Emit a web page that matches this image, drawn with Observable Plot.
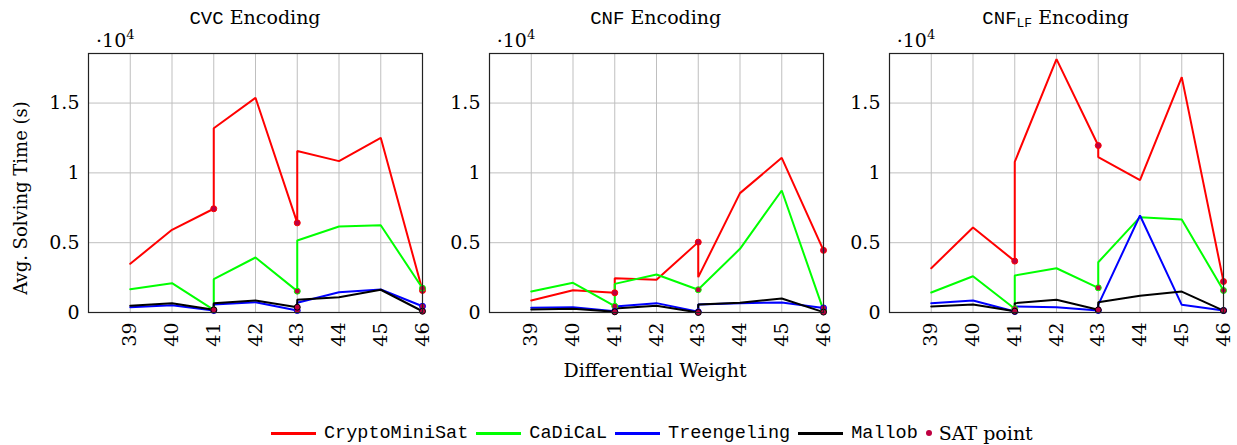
<!DOCTYPE html>
<html>
<head>
<meta charset="utf-8">
<script src="https://cdn.jsdelivr.net/npm/d3@7"></script>
<script src="https://cdn.jsdelivr.net/npm/@observablehq/plot@0.6"></script>
<style>
  body { margin: 0; background: #fff; }
  #root { position: relative; width: 1237px; height: 445px; font-family: "DejaVu Serif", serif; color: #000; overflow: hidden; }
  .abs { position: absolute; white-space: nowrap; }
  .tt { font-family: "Liberation Mono", monospace; }
  .title { font-size: 19px; transform: translateX(-50%); top: 4px; line-height: 26px; }
  .mult { font-size: 19px; top: 28px; line-height: 24px; }
  .mult sup { font-size: 13px; vertical-align: 8px; line-height: 0; }
  .title sub { font-size: 13px; vertical-align: -3px; line-height: 0; }
  .ylab { font-size: 18px; left: 20px; top: 198px; transform: translate(-50%, -50%) rotate(-90deg); }
  .xlab { font-size: 19px; left: 655px; top: 370px; transform: translate(-50%, -50%); }
  #legend { position: absolute; left: 271px; top: 433px; transform: translateY(-50%); display: flex; align-items: center; white-space: nowrap; }
  .sw { width: 45px; height: 3px; margin-right: 8px; }
  .lt { font-family: "Liberation Mono", monospace; font-size: 18.5px; margin-right: 8px; }
  .ld { width: 6px; height: 6px; border-radius: 50%; background: #bf0040; margin-right: 7px; }
  .ls { font-size: 19px; }
  svg { position: absolute; overflow: visible; }
</style>
</head>
<body>
<div id="root"></div>
<script>
// ---- data ----
const xPositions = [39, 40, 41, 41, 42, 43, 43, 44, 45, 46];
const satIndex = [2, 5, 9];
const solvers = ["CryptoMiniSat", "CaDiCaL", "Treengeling", "Mallob"];
const solverColors = ["#ff0000", "#00ff00", "#0000ff", "#000000"];
const xTicks = [39, 40, 41, 42, 43, 44, 45, 46];
const yTicks = [0, 5000, 10000, 15000];

// CVC encoding
const cvcCryptoMiniSat = [3490, 5920, 7430, 13200, 15380, 6420, 11560, 10840, 12510, 1580];
const cvcCaDiCaL       = [1670, 2100, 190, 2390, 3940, 1530, 5160, 6160, 6250, 1740];
const cvcTreengeling   = [380, 520, 140, 570, 740, 140, 700, 1450, 1650, 450];
const cvcMallob        = [480, 670, 190, 670, 860, 380, 910, 1100, 1630, 90];

// CNF encoding
const cnfCryptoMiniSat = [860, 1600, 1410, 2460, 2340, 5040, 2530, 8550, 11080, 4450];
const cnfCaDiCaL       = [1500, 2130, 450, 2050, 2720, 1630, 1650, 4560, 8740, 150];
const cnfTreengeling   = [340, 380, 90, 430, 670, 50, 570, 670, 720, 330];
const cnfMallob        = [210, 260, 50, 290, 480, 0, 570, 700, 1000, 30];

// CNF_LF encoding
const lfCryptoMiniSat = [3170, 6090, 3680, 10790, 18150, 11960, 11130, 9480, 16860, 2220];
const lfCaDiCaL       = [1430, 2600, 270, 2650, 3170, 1770, 3600, 6830, 6660, 1580];
const lfTreengeling   = [670, 860, 70, 430, 380, 140, 550, 6950, 550, 140];
const lfMallob        = [430, 570, 90, 670, 910, 190, 740, 1200, 1500, 140];

const panelSeries = [
  [cvcCryptoMiniSat, cvcCaDiCaL, cvcTreengeling, cvcMallob],
  [cnfCryptoMiniSat, cnfCaDiCaL, cnfTreengeling, cnfMallob],
  [lfCryptoMiniSat, lfCaDiCaL, lfTreengeling, lfMallob]
];
const panelTitles = [
  '<span class="tt">CVC</span> Encoding',
  '<span class="tt">CNF</span> Encoding',
  '<span class="tt">CNF<sub>LF</sub></span> Encoding'
];

// ---- layout ----
const root = document.getElementById("root");
const frameLefts = [88, 488.7, 888.7];
const frameW = 334, frameTop = 53, frameH = 259;
const mTop = 8, mBottom = 55, mRight = 8, mLeft = 50;

panelSeries.forEach((series, p) => {
  const rows = [];
  series.forEach((vals, s) => {
    vals.forEach((v, i) => rows.push({solver: solvers[s], x: xPositions[i], y: v, sat: satIndex.includes(i)}));
  });
  const satRows = rows.filter(d => d.sat);
  const chart = Plot.plot({
    width: mLeft + frameW + mRight,
    height: mTop + frameH + mBottom,
    marginLeft: mLeft, marginRight: mRight, marginTop: mTop, marginBottom: mBottom,
    style: {fontFamily: '"DejaVu Serif", serif', fontSize: "19px", background: "transparent", color: "#000"},
    x: {type: "linear", domain: [38, 46]},
    y: {domain: [0, 18550]},
    color: {domain: solvers, range: solverColors},
    marks: [
      Plot.gridX(xTicks, {stroke: "#bfbfbf", strokeOpacity: 1, strokeWidth: 1}),
      Plot.gridY(yTicks.slice(1), {stroke: "#bfbfbf", strokeOpacity: 1, strokeWidth: 1}),
      Plot.axisX({ticks: xTicks, tickRotate: -90, tickSize: 0, tickPadding: 10, label: null, tickFormat: d => String(d)}),
      Plot.axisY({ticks: yTicks, tickSize: 0, tickPadding: 9, label: null, tickFormat: d => d === 0 ? "0" : String(d / 10000)}),
      Plot.line(rows, {x: "x", y: "y", z: "solver", stroke: "solver", strokeWidth: 2, strokeLinejoin: "miter"}),
      Plot.dot(satRows, {x: "x", y: "y", r: 3, fill: "#bf0040", stroke: "solver", strokeWidth: 1}),
      Plot.frame({stroke: "#222", strokeWidth: 1.2})
    ]
  });
  chart.style.left = (frameLefts[p] - mLeft) + "px";
  chart.style.top = (frameTop - mTop) + "px";
  root.appendChild(chart);

  const t = document.createElement("div");
  t.className = "abs title";
  t.style.left = (frameLefts[p] + frameW / 2) + "px";
  t.innerHTML = panelTitles[p];
  root.appendChild(t);

  const m = document.createElement("div");
  m.className = "abs mult";
  m.style.left = (frameLefts[p] + 8) + "px";
  m.innerHTML = "·10<sup>4</sup>";
  root.appendChild(m);
});

const yl = document.createElement("div");
yl.className = "abs ylab";
yl.textContent = "Avg. Solving Time (s)";
root.appendChild(yl);

const xl = document.createElement("div");
xl.className = "abs xlab";
xl.textContent = "Differential Weight";
root.appendChild(xl);

const legend = document.createElement("div");
legend.id = "legend";
solvers.forEach((s, i) => {
  const sw = document.createElement("div");
  sw.className = "sw";
  sw.style.background = solverColors[i];
  legend.appendChild(sw);
  const lt = document.createElement("span");
  lt.className = "lt";
  lt.textContent = s;
  legend.appendChild(lt);
});
const ld = document.createElement("div");
ld.className = "ld";
legend.appendChild(ld);
const ls = document.createElement("span");
ls.className = "ls";
ls.textContent = "SAT point";
legend.appendChild(ls);
root.appendChild(legend);
</script>
</body>
</html>
